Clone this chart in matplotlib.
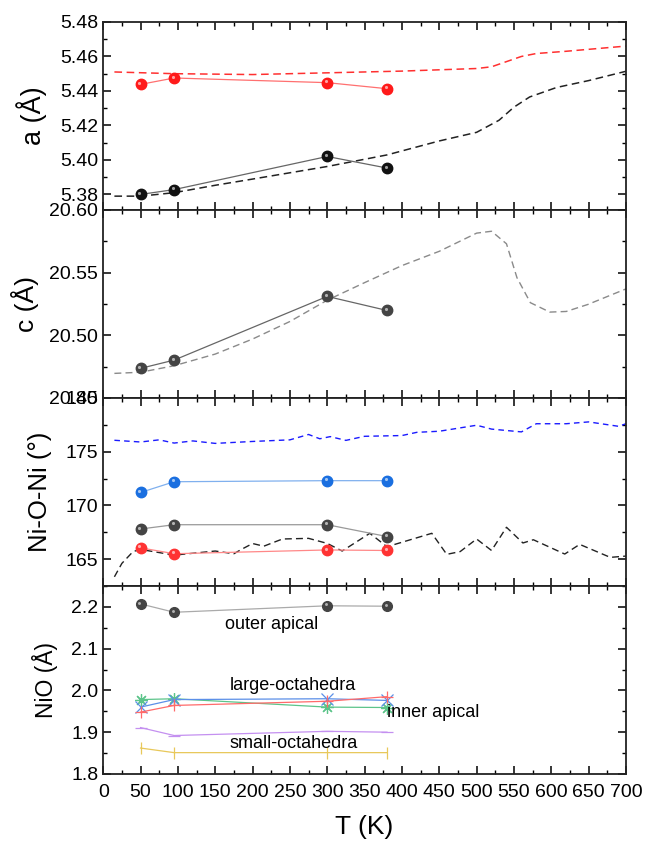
import matplotlib
matplotlib.use("Agg")
import matplotlib.pyplot as plt
from matplotlib.ticker import MultipleLocator
from matplotlib.transforms import offset_copy

plt.rcParams['font.family'] = ['Liberation Sans', 'DejaVu Sans']

# measured temperatures
T_meas = [50, 95, 300, 380]

# panel a
a_red = [5.4438, 5.4475, 5.4448, 5.4413]
a_black = [5.3800, 5.3828, 5.4020, 5.3953]
T_a_red_ref = [15, 95, 200, 300, 400, 500, 520, 560, 580, 620, 700]
a_red_ref = [5.451, 5.4500, 5.4495, 5.4505, 5.4515, 5.453, 5.454, 5.460, 5.4617, 5.463, 5.466]
T_a_blk_ref = [15, 50, 95, 150, 200, 300, 380, 450, 500, 530, 550, 571, 607, 650, 700]
a_blk_ref = [5.379, 5.379, 5.381, 5.3853, 5.3889, 5.3962, 5.4029, 5.411, 5.416, 5.423,
             5.4306, 5.4365, 5.442, 5.446, 5.4514]

# panel c
c_meas = [20.4736, 20.4802, 20.531, 20.5198]
T_c_ref = [15, 50, 95, 150, 200, 250, 300, 350, 400, 450, 500, 520, 540, 554, 572, 598, 620, 649, 700]
c_ref = [20.4696, 20.4705, 20.4757, 20.485, 20.497, 20.511, 20.528, 20.542, 20.5556, 20.567,
         20.5815, 20.583, 20.573, 20.546, 20.526, 20.5185, 20.519, 20.5246, 20.537]

# panel Ni-O-Ni
ang_blue = [171.2, 172.2, 172.3, 172.3]
ang_gray = [167.8, 168.2, 168.2, 167.1]
ang_red = [166.05, 165.5, 165.85, 165.8]
T_ang_blue_ref = [15, 50, 75, 95, 120, 150, 200, 250, 275, 290, 304, 325, 350, 400, 420, 450,
                  500, 520, 560, 580, 620, 650, 690, 700]
ang_blue_ref = [176.06, 175.9, 176.1, 175.8, 176.0, 175.77, 175.95, 176.1, 176.6, 176.2, 176.4,
                176.05, 176.43, 176.5, 176.8, 176.9, 177.46, 177.1, 176.84, 177.6, 177.6, 177.77,
                177.36, 177.6]
T_ang_blk_ref = [15, 25, 40, 50, 95, 150, 175, 185, 200, 215, 240, 275, 300, 320, 357, 380, 440,
                 460, 478, 500, 520, 540, 562, 576, 618, 638, 679, 700]
ang_blk_ref = [163.35, 164.6, 165.7, 165.9, 165.37, 165.75, 165.5, 165.9, 166.45, 166.2, 166.87,
               166.93, 166.46, 165.75, 167.4, 166.15, 167.4, 165.44, 165.7, 166.87, 165.8, 167.96,
               166.5, 166.8, 165.47, 166.37, 165.16, 165.28]

# panel NiO
nio_outer = [2.207, 2.187, 2.2025, 2.2015]
nio_green = [1.978, 1.980, 1.960, 1.959]
nio_bluex = [1.960, 1.978, 1.980, 1.976]
nio_redp = [1.948, 1.964, 1.974, 1.985]
nio_purple = [1.911, 1.892, 1.902, 1.900]
nio_yellow = [1.862, 1.851, 1.851, 1.851]

fig, axes = plt.subplots(4, 1, figsize=(6.45, 8.44), dpi=100, sharex=True)
fig.subplots_adjust(left=0.160, right=0.9705, top=0.974, bottom=0.083, hspace=0)


def balls(ax, x, y, color, lcolor, ms=7.5):
    ax.plot(x, y, '-', color=lcolor, lw=0.9, zorder=3)
    ax.plot(x, y, 'o', color=color, ms=ms, mec=color, zorder=4)
    tr = offset_copy(ax.transData, fig=fig, x=-1.0, y=1.0, units='points')
    ax.plot(x, y, 'o', color='white', ms=ms * 0.3, mew=0, alpha=0.6, transform=tr, zorder=5)


ax = axes[0]
ax.plot(T_a_red_ref, a_red_ref, '--', color='#ff3030', lw=1.1, dashes=(5, 3))
ax.plot(T_a_blk_ref, a_blk_ref, '--', color='#222222', lw=1.1, dashes=(5, 3))
balls(ax, T_meas, a_red, '#ff1a1a', '#ff7070')
balls(ax, T_meas, a_black, '#111111', '#666666')
ax.set_ylim(5.371, 5.48)
ax.yaxis.set_major_locator(MultipleLocator(0.02))
ax.yaxis.set_minor_locator(MultipleLocator(0.01))
ax.set_yticks([5.38, 5.40, 5.42, 5.44, 5.46, 5.48])
ax.set_ylabel('a (Å)', fontsize=19.5)
ax.yaxis.set_label_coords(-0.107, 0.5)

ax = axes[1]
ax.plot(T_c_ref, c_ref, '--', color='#8a8a8a', lw=1.0, dashes=(5, 3))
balls(ax, T_meas, c_meas, '#444444', '#666666')
ax.set_ylim(20.45, 20.60)
ax.yaxis.set_major_locator(MultipleLocator(0.05))
ax.yaxis.set_minor_locator(MultipleLocator(0.025))
ax.set_ylabel('c (Å)', fontsize=19)
ax.yaxis.set_label_coords(-0.122, 0.5)

ax = axes[2]
ax.plot(T_ang_blue_ref, ang_blue_ref, '--', color='#1a1aff', lw=1.0, dashes=(4, 3))
ax.plot(T_ang_blk_ref, ang_blk_ref, '--', color='#222222', lw=1.0, dashes=(5, 3))
balls(ax, T_meas, ang_blue, '#1a6fe0', '#80b0ee')
balls(ax, T_meas, ang_gray, '#444444', '#999999')
balls(ax, T_meas, ang_red, '#ff3333', '#ff8888')
ax.set_ylim(162.5, 180)
ax.yaxis.set_major_locator(MultipleLocator(5))
ax.yaxis.set_minor_locator(MultipleLocator(2.5))
ax.set_ylabel('Ni-O-Ni (°)', fontsize=18.5)
ax.yaxis.set_label_coords(-0.098, 0.5)

ax = axes[3]
balls(ax, T_meas, nio_outer, '#444444', '#aaaaaa', ms=7)
ax.plot(T_meas, nio_green, '-', color='#5cc48a', lw=0.9, marker=(8, 2, 0), ms=9, mew=0.9)
ax.plot(T_meas, nio_bluex, '-', color='#5b8fe8', lw=0.9, marker='x', ms=8, mew=0.9)
ax.plot(T_meas, nio_redp, '-', color='#ff6a6a', lw=0.9, marker='+', ms=9, mew=0.9)
ax.plot(T_meas, nio_purple, '-', color='#c490f0', lw=0.9, marker='_', ms=9, mew=0.9)
ax.plot(T_meas, nio_yellow, '-', color='#e8c85a', lw=0.9, marker='|', ms=9, mew=0.9)
ax.text(226, 2.157, 'outer apical', fontsize=13, ha='center', va='center')
ax.text(254, 2.012, 'large-octahedra', fontsize=13, ha='center', va='center')
ax.text(380, 1.946, 'inner apical', fontsize=13, ha='left', va='center')
ax.text(255, 1.874, 'small-octahedra', fontsize=13, ha='center', va='center')
ax.set_ylim(1.8, 2.25)
ax.set_yticks([1.8, 1.9, 2.0, 2.1, 2.2])
ax.yaxis.set_minor_locator(MultipleLocator(0.05))
ax.set_ylabel('NiO (Å)', fontsize=16.5)
ax.yaxis.set_label_coords(-0.086, 0.5)
ax.set_xlabel('T (K)', fontsize=19, labelpad=10)

ax.set_xlim(0, 700)
ax.xaxis.set_major_locator(MultipleLocator(50))
ax.xaxis.set_minor_locator(MultipleLocator(25))

for ax in axes:
    for s in ax.spines.values():
        s.set_linewidth(1.3)
        s.set_color('#222222')
    ax.tick_params(which='both', direction='in', top=True, right=True, labelsize=14)
    ax.tick_params(which='major', length=6, width=1.1)
    ax.tick_params(which='minor', length=3, width=1.0)
    ax.tick_params(axis='x', pad=7)
    ax.set_xlim(0, 700)

plt.savefig('out.png', dpi=100)
